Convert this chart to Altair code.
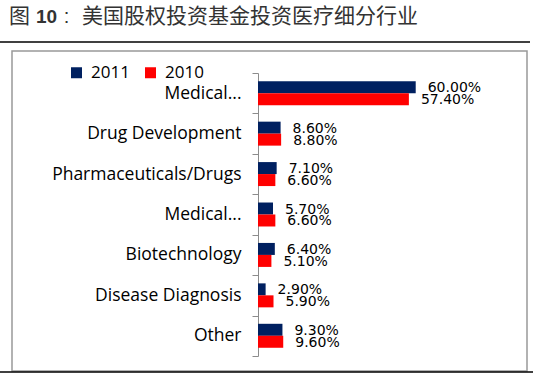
import altair as alt
import pandas as pd

categories = ["Medical Devices", "Drug Development", "Pharmaceuticals/Drugs",
              "Medical Services", "Biotechnology", "Disease Diagnosis", "Other"]
display_labels = ["Medical...", "Drug Development", "Pharmaceuticals/Drugs",
                  "Medical...", "Biotechnology", "Disease Diagnosis", "Other"]
years = ["2011", "2010"]
values_2011 = [60.0, 8.6, 7.1, 5.7, 6.4, 2.9, 9.3]
values_2010 = [57.4, 8.8, 6.6, 6.6, 5.1, 5.9, 9.6]

rows = []
for c, v1, v0 in zip(categories, values_2011, values_2010):
    rows.append({"cat": c, "year": "2011", "v": v1})
    rows.append({"cat": c, "year": "2010", "v": v0})
df = pd.DataFrame(rows)

W, H = 184, 283
PL, PT = 258, 73

label_map = "{" + ",".join(f"'{c}':'{d}'" for c, d in zip(categories, display_labels)) + "}"

y_enc = alt.Y("cat:N", sort=categories,
              scale=alt.Scale(paddingInner=0, paddingOuter=0),
              axis=alt.Axis(title=None, tickBand="extent", domainColor="#8c8c8c",
                            tickColor="#8c8c8c", tickSize=6, labelPadding=11,
                            labelFont="Open Sans", labelFontSize=17.5, labelColor="#000000",
                            labelLimit=300,
                            labelExpr=f"{label_map}[datum.label]"))
yoff = alt.YOffset("year:N", sort=years,
                   scale=alt.Scale(domain=years, paddingInner=0, paddingOuter=0.6875))
x_enc = alt.X("v:Q", scale=alt.Scale(domain=[0, 70]), axis=None)
color = alt.Color("year:N", sort=years,
                  scale=alt.Scale(domain=years, range=["#002060", "#FF0000"]),
                  legend=alt.Legend(title=None, orient="none", direction="horizontal",
                                    legendX=-190, legendY=-9, symbolType="square",
                                    symbolSize=121, symbolStrokeWidth=0,
                                    labelFont="Open Sans", labelFontSize=17,
                                    labelColor="#000000", labelOffset=6,
                                    columnPadding=12, padding=0))

base = alt.Chart(df)
bars = base.mark_bar(size=12).encode(y=y_enc, yOffset=yoff, x=x_enc, color=color)
texts = base.transform_calculate(
    lab="format(datum.v, '.2f') + '%'"
).mark_text(align="left", baseline="middle", dx=12, dy=1,
            font="DejaVu Sans", fontSize=14, color="#000000").encode(
    y=alt.Y("cat:N", sort=categories), yOffset=alt.YOffset("year:N", sort=years),
    x="v:Q", text="lab:N")

deco = alt.Chart(pd.DataFrame({"d": [0]}))
box = deco.mark_rect(fill=None, stroke="#999999", strokeWidth=1.5).encode(
    x=alt.value(12 - PL), x2=alt.value(527 - PL),
    y=alt.value(51 - PT), y2=alt.value(371 - PT))
top_rule = deco.mark_rule(color="#000000", strokeWidth=1.5).encode(
    x=alt.value(0 - PL), x2=alt.value(530 - PL), y=alt.value(42 - PT))
bot_rule = deco.mark_rule(color="#000000", strokeWidth=1.5).encode(
    x=alt.value(0 - PL), x2=alt.value(533 - PL), y=alt.value(372 - PT))

tfont = "Noto Sans CJK SC"
t1 = deco.mark_text(text="图", align="left", baseline="middle", font=tfont,
                    fontSize=21, color="#333333").encode(
    x=alt.value(9 - PL), y=alt.value(17 - PT))
t2 = deco.mark_text(text="10", align="left", baseline="alphabetic", font="Liberation Sans",
                    fontSize=19, fontWeight="bold", color="#333333").encode(
    x=alt.value(36 - PL), y=alt.value(23 - PT))
t3 = deco.mark_text(text=":", align="center", baseline="alphabetic", font="Liberation Sans",
                    fontSize=20, color="#333333").encode(
    x=alt.value(66.5 - PL), y=alt.value(23 - PT))
t4 = deco.mark_text(text="美国股权投资基金投资医疗细分行业", align="left",
                    baseline="middle", font=tfont, fontSize=21,
                    color="#333333").encode(
    x=alt.value(82 - PL), y=alt.value(17 - PT))

chart = alt.layer(box, top_rule, bot_rule, t1, t2, t3, t4, bars, texts).properties(
    width=W, height=H,
    padding={"left": PL, "top": PT, "right": 533 - PL - W, "bottom": 376 - PT - H},
    autosize=alt.AutoSizeParams(type="none"),
    background="#ffffff",
).configure_view(stroke=None)

chart.save("out.html", embed_options={"renderer": "svg", "actions": False})
